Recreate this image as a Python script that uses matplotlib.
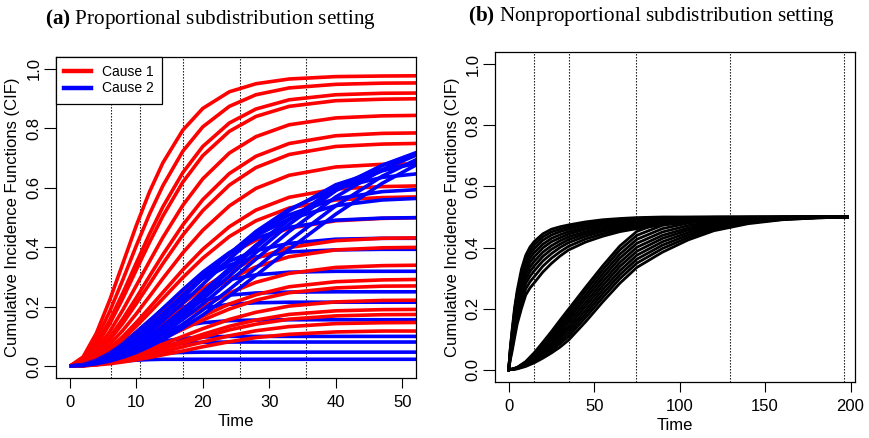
import matplotlib
matplotlib.use("Agg")
import matplotlib.pyplot as plt

plt.rcParams['font.family'] = ['Liberation Sans', 'DejaVu Sans']
plt.rcParams['mathtext.fontset'] = 'custom'
plt.rcParams['mathtext.rm'] = 'Liberation Serif'
plt.rcParams['mathtext.bf'] = 'Liberation Serif:bold'

# ---------------- panel (a) data ----------------
time_a = [0, 2, 4, 6, 8, 10, 12, 14, 17, 20, 24, 28, 33, 40, 47, 54]

cause1_cif = [
    [0, .031, .111, .222, .347, .473, .587, .684, .794, .867, .923, .950, .966, .974, .976, .977],
    [0, .025, .091, .184, .292, .405, .512, .607, .723, .805, .874, .913, .936, .948, .952, .953],
    [0, .021, .075, .154, .247, .347, .445, .536, .651, .739, .818, .865, .896, .913, .918, .919],
    [0, .019, .069, .142, .229, .324, .417, .505, .619, .708, .790, .840, .874, .893, .898, .900],
    [0, .015, .056, .116, .190, .271, .353, .433, .541, .630, .717, .772, .812, .835, .842, .844],
    [0, .013, .047, .097, .160, .230, .303, .375, .475, .560, .648, .706, .749, .775, .783, .785],
    [0, .012, .042, .088, .145, .210, .277, .345, .441, .523, .609, .668, .712, .739, .747, .750],
    [0, .010, .035, .073, .121, .176, .235, .295, .381, .457, .539, .598, .642, .670, .679, .681],
    [0, .008, .029, .060, .100, .147, .197, .248, .324, .393, .469, .525, .568, .596, .604, .607],
    [0, .007, .026, .055, .091, .134, .180, .227, .298, .363, .436, .489, .532, .559, .567, .570],
    [0, .006, .021, .045, .075, .111, .150, .191, .252, .310, .375, .424, .464, .489, .497, .500],
    [0, .005, .017, .037, .062, .092, .124, .159, .211, .261, .319, .363, .399, .422, .430, .432],
    [0, .004, .016, .033, .056, .083, .113, .145, .193, .239, .293, .334, .368, .391, .398, .400],
    [0, .003, .013, .027, .046, .068, .093, .119, .160, .200, .246, .282, .312, .332, .338, .340],
    [0, .003, .011, .023, .038, .057, .078, .100, .135, .168, .209, .240, .267, .284, .290, .292],
    [0, .003, .010, .021, .035, .052, .071, .092, .124, .155, .192, .222, .247, .263, .269, .270],
    [0, .002, .008, .017, .028, .042, .057, .074, .100, .126, .157, .181, .202, .216, .221, .222],
    [0, .002, .007, .014, .024, .035, .048, .063, .085, .107, .134, .155, .174, .186, .190, .191],
    [0, .002, .006, .013, .021, .032, .044, .057, .077, .097, .122, .141, .158, .169, .173, .174],
    [0, .001, .005, .011, .018, .027, .037, .047, .065, .081, .102, .119, .133, .143, .146, .147],
    [0, .001, .004, .008, .014, .021, .029, .038, .051, .065, .082, .096, .107, .115, .118, .118],
]

cause2_cif = [
    [0, .002, .006, .012, .017, .020, .022, .023, .023, .023, .023, .023, .023, .023, .023, .023],
    [0, .003, .009, .018, .028, .035, .041, .044, .046, .047, .047, .047, .047, .047, .047, .047],
    [0, .003, .013, .026, .040, .053, .064, .071, .077, .080, .081, .081, .081, .081, .081, .081],
    [0, .004, .014, .029, .045, .061, .074, .084, .093, .098, .100, .100, .100, .100, .100, .100],
    [0, .004, .016, .034, .056, .078, .099, .116, .135, .146, .153, .155, .156, .156, .156, .156],
    [0, .005, .019, .041, .068, .096, .123, .147, .176, .195, .208, .213, .215, .215, .215, .215],
    [0, .005, .021, .044, .072, .103, .134, .162, .197, .220, .239, .246, .249, .250, .250, .250],
    [0, .005, .021, .045, .076, .110, .145, .179, .225, .260, .291, .307, .316, .319, .319, .319],
    [0, .005, .021, .046, .078, .115, .154, .193, .248, .294, .340, .367, .384, .391, .393, .393],
    [0, .005, .020, .044, .075, .111, .150, .190, .249, .300, .353, .389, .413, .427, .430, .430],
    [0, .005, .020, .043, .074, .111, .151, .194, .257, .316, .382, .430, .467, .491, .498, .500],
    [0, .004, .017, .037, .065, .098, .135, .176, .239, .301, .377, .439, .495, .540, .559, .566],
    [0, .004, .016, .036, .063, .095, .133, .173, .237, .300, .379, .446, .509, .563, .587, .596],
    [0, .004, .015, .034, .060, .091, .127, .166, .230, .295, .378, .453, .528, .598, .635, .651],
    [0, .003, .014, .031, .054, .082, .115, .152, .212, .275, .360, .438, .523, .610, .661, .688],
    [0, .003, .012, .027, .047, .072, .102, .135, .190, .249, .329, .407, .495, .592, .657, .695],
    [0, .003, .011, .025, .044, .068, .096, .128, .181, .239, .320, .399, .492, .599, .675, .724],
    [0, .003, .011, .023, .041, .063, .090, .120, .170, .225, .303, .382, .477, .590, .676, .734],
    [0, .002, .010, .021, .038, .058, .082, .110, .157, .209, .284, .360, .453, .569, .661, .728],
    [0, .002, .008, .019, .033, .052, .073, .098, .141, .189, .258, .330, .421, .539, .639, .715],
    [0, .002, .008, .017, .030, .046, .066, .089, .128, .172, .236, .305, .393, .511, .615, .700],
]

cuts_a = [6.25, 10.6, 17.05, 25.6, 35.5]
xticks_a = [0, 10, 20, 30, 40, 50]

# ---------------- panel (b) data ----------------
time_b_early = [0, 1, 2, 3.5, 5, 7.5, 10, 12.5, 15, 20, 25, 30, 35, 45, 55, 65, 75,
                90, 105, 120, 140, 160, 180, 198]
early_cif = [
    [0, .075, .130, .205, .260, .330, .375, .402, .420, .445, .460, .468, .474, .484, .491, .495, .498, .500, .500, .500, .500, .500, .500, .500],
    [0, .071, .124, .197, .251, .319, .365, .391, .409, .435, .451, .460, .467, .479, .487, .492, .495, .498, .499, .500, .500, .500, .500, .500],
    [0, .067, .118, .188, .241, .307, .353, .379, .397, .424, .441, .452, .460, .473, .482, .488, .492, .496, .497, .498, .499, .500, .500, .500],
    [0, .063, .111, .178, .230, .294, .340, .366, .384, .411, .430, .442, .452, .466, .476, .483, .488, .493, .495, .497, .499, .500, .500, .500],
    [0, .059, .104, .168, .219, .281, .327, .352, .370, .399, .419, .432, .444, .460, .471, .479, .485, .490, .494, .496, .498, .499, .500, .500],
    [0, .054, .096, .157, .207, .267, .313, .337, .355, .385, .406, .422, .435, .452, .465, .474, .481, .488, .492, .495, .498, .499, .500, .500],
    [0, .050, .089, .146, .195, .253, .298, .322, .340, .371, .394, .411, .426, .445, .459, .470, .477, .485, .490, .494, .497, .499, .500, .500],
    [0, .045, .080, .134, .182, .238, .283, .306, .324, .356, .380, .400, .416, .437, .453, .464, .472, .482, .488, .493, .496, .499, .500, .500],
    [0, .040, .071, .121, .167, .220, .265, .288, .305, .339, .365, .386, .404, .428, .445, .458, .467, .478, .486, .492, .496, .498, .500, .500],
    [0, .034, .060, .106, .150, .201, .245, .268, .285, .320, .348, .372, .392, .418, .437, .452, .462, .474, .483, .490, .495, .498, .500, .500],
]

time_b_late = [0, 2, 5, 10, 15, 20, 25, 30, 35, 45, 55, 65, 75, 90, 105, 120, 140, 160, 180, 198]
late_cif = [
    [0, .002, .008, .027, .056, .090, .125, .162, .198, .270, .340, .405, .453, .484, .495, .499, .500, .500, .500, .500],
    [0, .002, .007, .025, .052, .084, .117, .152, .187, .258, .327, .392, .440, .473, .487, .494, .498, .499, .500, .500],
    [0, .002, .007, .023, .049, .079, .110, .143, .176, .245, .314, .378, .427, .462, .480, .489, .495, .498, .499, .500],
    [0, .002, .006, .022, .045, .073, .102, .133, .165, .233, .301, .365, .414, .451, .472, .484, .493, .497, .499, .500],
    [0, .002, .006, .020, .041, .067, .094, .123, .154, .220, .288, .351, .401, .440, .464, .480, .490, .496, .499, .500],
    [0, .002, .005, .018, .038, .061, .087, .114, .142, .208, .275, .338, .388, .430, .457, .475, .488, .495, .498, .500],
    [0, .001, .005, .016, .034, .056, .079, .104, .131, .195, .262, .324, .375, .419, .449, .470, .485, .494, .498, .500],
    [0, .001, .004, .015, .031, .050, .071, .094, .120, .183, .249, .311, .362, .408, .441, .465, .483, .493, .498, .500],
    [0, .001, .004, .013, .027, .044, .063, .085, .109, .171, .236, .298, .349, .397, .433, .460, .481, .492, .497, .500],
    [0, .001, .003, .011, .023, .038, .055, .074, .097, .157, .222, .283, .335, .385, .425, .455, .478, .491, .497, .500],
]

cuts_b = [14.8, 35.3, 74.2, 129.6, 196.0]
xticks_b = [0, 50, 100, 150, 200]

yticks = [0.0, 0.2, 0.4, 0.6, 0.8, 1.0]
ytick_labels = ["0.0", "0.2", "0.4", "0.6", "0.8", "1.0"]
ylabel = "Cumulative Incidence Functions (CIF)"

# ---------------- figure ----------------
fig = plt.figure(figsize=(8.69, 4.38), dpi=100)
W, H = 869, 438
ax1 = fig.add_axes([56 / W, 1 - 378 / H, 360 / W, 321 / H])
ax2 = fig.add_axes([495 / W, 1 - 382 / H, 360 / W, 330 / H])


def style(ax, xticks, xlim):
    ax.set_xlim(*xlim)
    ax.set_ylim(-0.04, 1.04)
    ax.set_xticks(xticks)
    ax.set_xticklabels([str(v) for v in xticks])
    ax.set_yticks(yticks)
    ax.set_yticklabels(ytick_labels)
    ax.tick_params(direction='out', width=0.8, labelsize=12, colors='black')
    ax.tick_params(axis='x', length=7.3, pad=5)
    ax.tick_params(axis='y', length=9, pad=1.5)
    for lab in ax.get_yticklabels():
        lab.set_rotation(90)
        lab.set_va('center')
    for sp in ax.spines.values():
        sp.set_linewidth(0.9)
        sp.set_color('black')
    ax.set_xlabel("Time", fontsize=12)
    ax.set_ylabel(ylabel, fontsize=12)


# panel (a)
for c in cuts_a:
    ax1.axvline(c, color='black', lw=0.8, ls=(0, (1.2, 1.5)), zorder=1)
for r, b in zip(cause1_cif, cause2_cif):
    ax1.plot(time_a, r, color='#ff0000', lw=2.6, solid_capstyle='butt', zorder=2)
    ax1.plot(time_a, b, color='#0000ff', lw=2.6, solid_capstyle='butt', zorder=2)
style(ax1, xticks_a, (-2.08, 52.08))
ax1.xaxis.set_label_coords(0.5, -0.111)
ax1.yaxis.set_label_coords(-0.100, 0.5)

h1, = ax1.plot([], [], color='#ff0000', lw=3.2)
h2, = ax1.plot([], [], color='#0000ff', lw=3.2)
leg = ax1.legend([h1, h2], ["Cause 1", "Cause 2"], loc='upper left',
                 bbox_to_anchor=(0, 1), borderaxespad=0, fancybox=False,
                 framealpha=1, edgecolor='black', fontsize=10,
                 handlelength=1.95, handletextpad=0.75, labelspacing=0.15,
                 borderpad=0.6)
leg.get_frame().set_linewidth(0.9)
leg.set_zorder(5)

# panel (b)
for c in cuts_b:
    ax2.axvline(c, color='black', lw=0.8, ls=(0, (1.2, 1.5)), zorder=1)
for e in early_cif:
    ax2.plot(time_b_early, e, color='black', lw=2.0, zorder=2)
for l in late_cif:
    ax2.plot(time_b_late, l, color='black', lw=2.0, zorder=2)
style(ax2, xticks_b, (-8.0, 202.6))
ax2.xaxis.set_label_coords(0.5, -0.108)
ax2.yaxis.set_label_coords(-0.097, 0.5)

fig.text(210.5 / W, 1 - 19 / H, r"$\mathbf{(a)}$ Proportional subdistribution setting",
         ha='center', va='center', fontsize=15.2, family='Liberation Serif')
fig.text(651.5 / W, 1 - 16 / H, r"$\mathbf{(b)}$ Nonproportional subdistribution setting",
         ha='center', va='center', fontsize=15.2, family='Liberation Serif')

fig.savefig("out.png", dpi=100)
